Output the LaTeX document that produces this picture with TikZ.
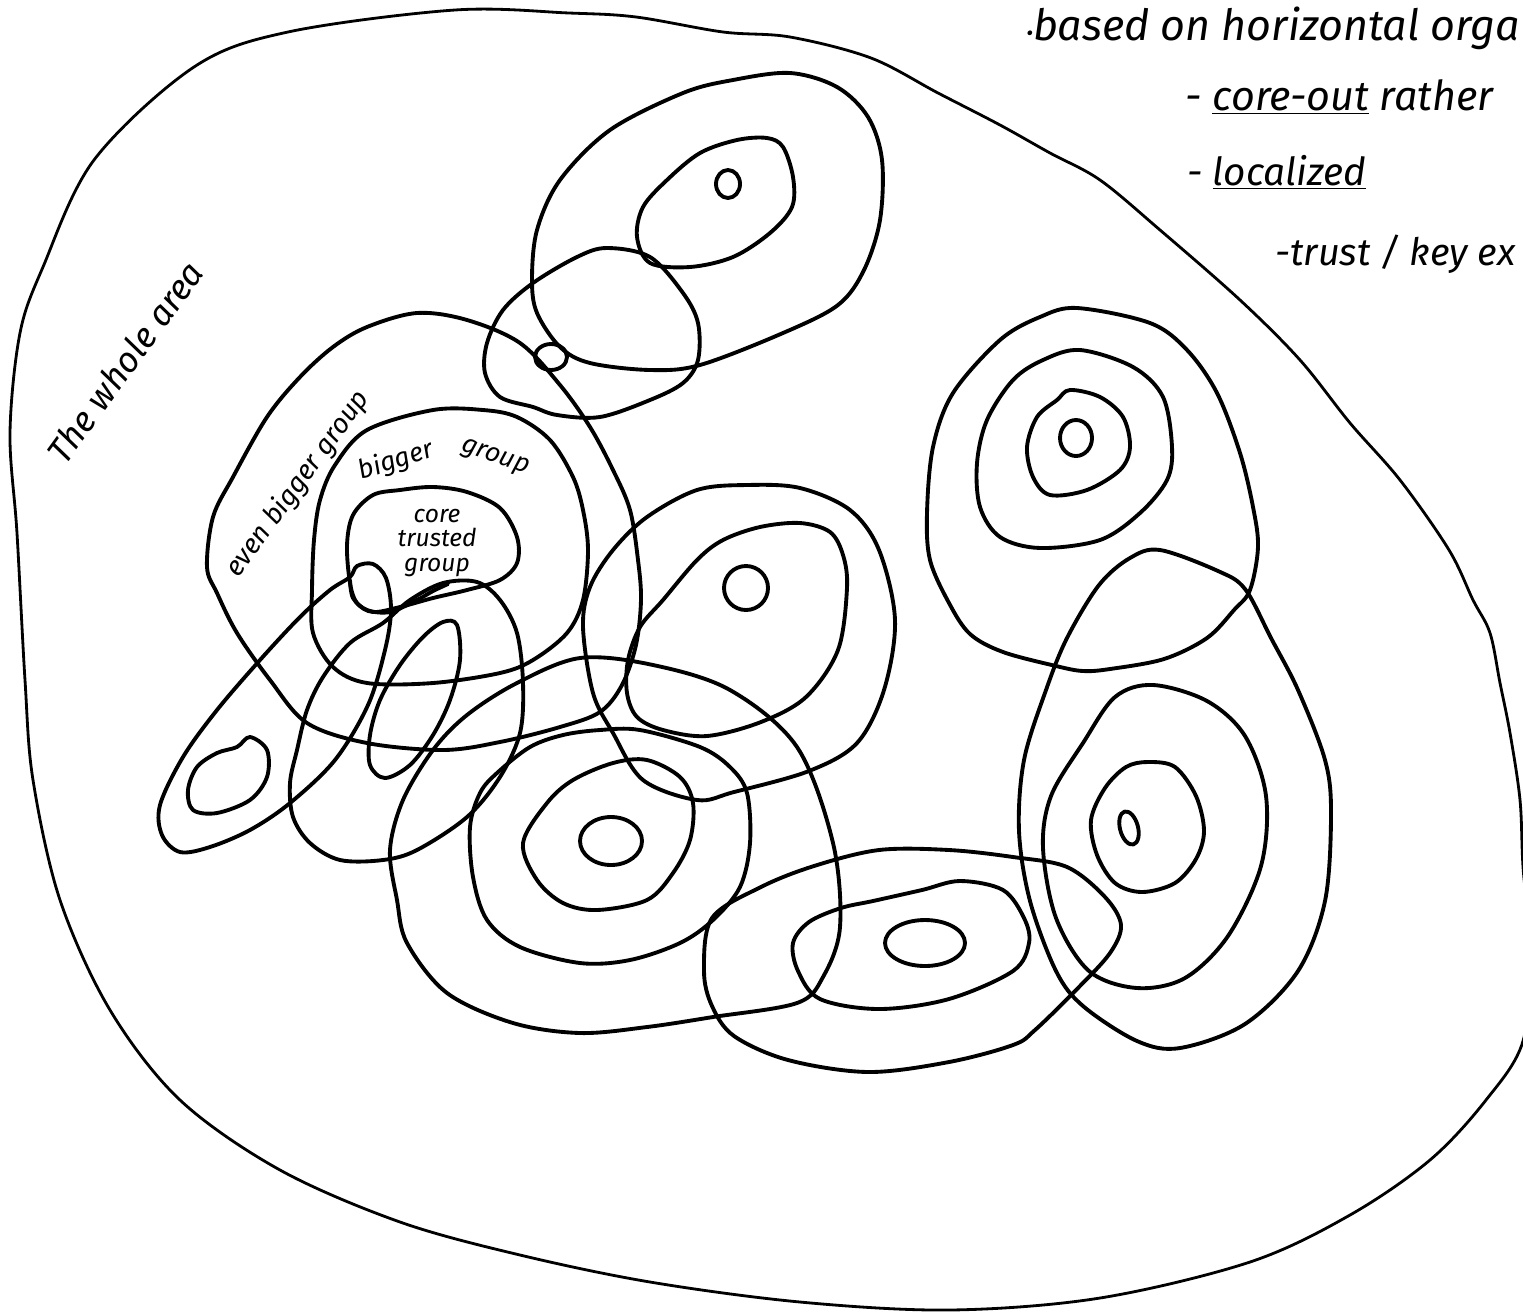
\documentclass[tikz,border=0pt]{standalone}
\usepackage{fontspec}
\setmainfont{Fira Sans}
\begin{document}
\begin{tikzpicture}[x=0.02cm,y=-0.02cm,
  ink/.style={line width=2.2pt, line join=round, line cap=round},
  thin ink/.style={line width=1.6pt, line join=round, line cap=round},
  hand/.style={font=\itshape, inner sep=0pt},
  sm/.style={smooth cycle, tension=0.55}]
\useasboundingbox (0,0) rectangle (1523,1312);
\clip (0,0) rectangle (1523,1312);
% whole area
\draw[thin ink] plot[sm] coordinates {(94,160) (194,67) (288,32) (455,10) (569,13) (636,17) (723,32) (790,37) (871,58) (938,93) (1000,125) (1050,153) (1100,180) (1160,230) (1240,300) (1300,360) (1350,423) (1400,480) (1449,550) (1473,600) (1490,633) (1500,683) (1510,733) (1520,800) (1523,867) (1530,950) (1523,1041) (1486,1100) (1430,1160) (1350,1215) (1250,1262) (1100,1298) (950,1310) (800,1302) (650,1282) (520,1255) (400,1222) (280,1170) (180,1100) (110,1010) (60,900) (33,780) (25,680) (17,533) (10,433) (20,333) (43,267)};
% top group
\draw[ink] plot[sm] coordinates {(733,80) (790,73) (837,87) (868,117) (882,160) (880,220) (864,270) (838,305) (783,333) (700,365) (650,370) (590,363) (560,347) (537,313) (532,280) (537,230) (560,180) (610,130) (683,93)};
\draw[ink] plot[sm] coordinates {(637,237) (643,207) (667,180) (700,153) (737,140) (767,138) (783,147) (793,177) (792,207) (770,233) (733,257) (690,267) (650,263)};
\draw[ink] (728,184) ellipse [x radius=12, y radius=14];
\draw[ink] plot[sm] coordinates {(607,248) (650,257) (683,293) (698,323) (698,360) (683,383) (650,400) (600,417) (557,415) (533,407) (500,397) (485,373) (487,343) (503,310) (533,283) (577,257)};
\draw[ink] (551,357) ellipse [x radius=16, y radius=13];
% even bigger group
\draw[ink] plot[sm] coordinates {(207,567) (213,517) (233,477) (267,417) (300,377) (333,347) (367,327) (417,313) (467,320) (520,343) (560,385) (590,427) (613,470) (630,510) (638,560) (641,600) (636,645) (622,685) (600,712) (560,727) (500,742) (443,750) (367,743) (307,723) (270,680) (237,633) (217,593)};
% bigger group
\draw[ink] plot[sm] coordinates {(314,540) (320,500) (335,465) (367,430) (433,410) (483,410) (517,417) (550,440) (573,477) (583,510) (588,550) (583,600) (567,633) (533,660) (500,673) (433,683) (367,683) (333,667) (313,633) (312,590)};
% core trusted group
\draw[ink] plot[sm] coordinates {(350,583) (347,545) (353,515) (373,495) (400,490) (433,487) (467,492) (500,508) (517,537) (517,563) (500,580) (467,590) (433,598) (400,607) (373,612) (357,603)};
% lower-left loops
\draw[ink] plot[sm] coordinates {(350,577) (357,566) (373,564) (386,578) (391,610) (385,650) (368,705) (335,760) (290,803) (250,830) (210,847) (180,852) (162,835) (160,805) (183,757) (217,710) (260,660) (300,617) (330,590)};
\draw[ink] plot[smooth, tension=0.55] coordinates {(350,580) (353,598) (367,610) (390,612) (417,600) (433,591) (448,584)};
\draw[ink] plot[sm] coordinates {(250,737) (267,750) (267,777) (250,800) (217,813) (193,810) (188,790) (197,767) (217,753) (237,747)};
\draw[ink] plot[sm] coordinates {(457,625) (460,660) (450,700) (433,735) (410,765) (385,778) (370,765) (370,735) (380,700) (400,665) (423,637) (443,622)};
\draw[ink] plot[sm] coordinates {(443,583) (477,582) (500,600) (517,633) (523,683) (520,733) (500,777) (467,817) (417,850) (383,860) (340,860) (310,843) (293,817) (290,783) (297,750) (307,710) (323,677) (350,643) (383,623) (410,600)};
% lower centre group
\draw[ink] (611,841) ellipse [x radius=31, y radius=24];
\draw[ink] plot[sm] coordinates {(573,780) (613,763) (647,760) (680,777) (693,803) (690,840) (673,873) (647,900) (597,910) (563,903) (537,880) (523,843) (547,803)};
\draw[ink] plot[sm] coordinates {(700,747) (730,767) (747,793) (750,843) (740,887) (713,920) (680,943) (630,960) (580,963) (520,947) (487,920) (473,877) (470,827) (480,793) (497,773) (530,747) (563,735) (600,730) (640,730)};
\draw[ink] plot[sm] coordinates {(397,900) (390,850) (403,800) (433,750) (467,715) (517,683) (580,658) (653,665) (730,690) (797,747) (833,843) (840,927) (823,977) (797,1003) (713,1017) (647,1027) (580,1033) (513,1023) (447,993) (407,943)};
% middle group
\draw[ink] (746,588) ellipse [x radius=22, y radius=22];
\draw[ink] plot[sm] coordinates {(697,560) (723,540) (760,527) (800,523) (830,532) (843,555) (847,588) (838,650) (806,697) (761,722) (707,736) (663,730) (637,717) (627,693) (628,660) (640,627) (663,600)};
\draw[ink] plot[sm] coordinates {(747,485) (800,488) (850,510) (879,550) (895,620) (884,690) (857,743) (809,771) (734,792) (697,800) (643,780) (613,733) (593,693) (583,627) (590,587) (613,550) (647,517) (697,490)};
% upper right group
\draw[ink] (1076,438) ellipse [x radius=16, y radius=18];
\draw[ink] plot[sm] coordinates {(1070,390) (1100,397) (1123,417) (1130,447) (1120,470) (1087,490) (1050,495) (1033,477) (1027,447) (1037,417) (1057,400)};
\draw[ink] plot[sm] coordinates {(1080,350) (1133,367) (1163,397) (1172,447) (1167,480) (1140,513) (1100,540) (1040,548) (1000,537) (980,507) (977,463) (987,420) (1013,380) (1043,360)};
\draw[ink] plot[sm] coordinates {(1077,308) (1150,323) (1187,350) (1217,393) (1240,453) (1253,507) (1258,547) (1250,590) (1234,610) (1207,638) (1164,659) (1110,669) (1083,671) (1056,666) (1003,652) (970,634) (949,603) (930,560) (927,513) (933,447) (953,393) (1000,340) (1040,317)};
% lower right group
\draw[ink] plot[sm] coordinates {(1160,550) (1218,571) (1245,589) (1271,638) (1298,690) (1325,760) (1331,813) (1325,901) (1298,971) (1245,1024) (1180,1048) (1137,1041) (1083,1006) (1056,971) (1030,901) (1019,831) (1024,760) (1046,690) (1067,638) (1099,585) (1130,558)};
\draw[ink] plot[sm] coordinates {(1153,685) (1207,701) (1245,736) (1266,796) (1261,866) (1228,936) (1185,978) (1137,988) (1089,971) (1056,918) (1043,848) (1051,796) (1083,743) (1115,697)};
\draw[ink] plot[sm] coordinates {(1148,762) (1175,767) (1196,796) (1204,831) (1196,859) (1175,883) (1142,892) (1115,883) (1097,855) (1091,820) (1105,788) (1126,767)};
\draw[ink, rotate around={15:(1129,828)}] (1129,828) ellipse [x radius=9, y radius=17];
% bottom group
\draw[ink] (925,943) ellipse [x radius=40, y radius=23];
\draw[ink] plot[sm] coordinates {(873,901) (922,890) (960,881) (1003,890) (1024,918) (1029,943) (1013,971) (949,999) (879,1009) (820,999) (798,971) (793,943) (809,922) (841,908)};
\draw[ink] plot[sm] coordinates {(879,850) (949,850) (1013,857) (1067,867) (1105,897) (1121,925) (1110,953) (1078,988) (1035,1030) (1013,1045) (949,1062) (868,1072) (788,1060) (734,1036) (712,1006) (704,971) (712,918) (761,887) (814,866)};
% labels
\node[hand, font=\itshape\fontsize{20}{24}\selectfont, rotate=54] (whole) at (125,362) {The whole area};
\node[hand, font=\itshape\fontsize{15.5}{19}\selectfont, rotate=54] (ebg) at (298,484) {even bigger group};
\node[hand, font=\itshape\fontsize{15}{18}\selectfont, rotate=18] (bg1) at (396,461) {bigger};
\node[hand, font=\itshape\fontsize{15}{18}\selectfont, rotate=-20] (bg2) at (495,458) {group};
\node[hand, font=\itshape\fontsize{14}{14}\selectfont, align=center] (core) at (437,543) {core\\trusted\\group};
% notes
\node[hand, anchor=base west, font=\itshape\fontsize{24.5}{28}\selectfont] (n1) at (1026,40) {{\fontsize{12}{12}\selectfont\textbullet}based on horizontal orga};
\node[hand, anchor=base west, font=\itshape\fontsize{23.5}{28}\selectfont] (n2) at (1185,110) {- \underline{core-out} rather};
\node[hand, anchor=base west, font=\itshape\fontsize{22}{26}\selectfont] (n3) at (1187,185) {- \underline{localized}};
\node[hand, anchor=base west, font=\itshape\fontsize{21.5}{26}\selectfont] (n4) at (1275,265) {-trust / key ex};
\end{tikzpicture}
\end{document}
